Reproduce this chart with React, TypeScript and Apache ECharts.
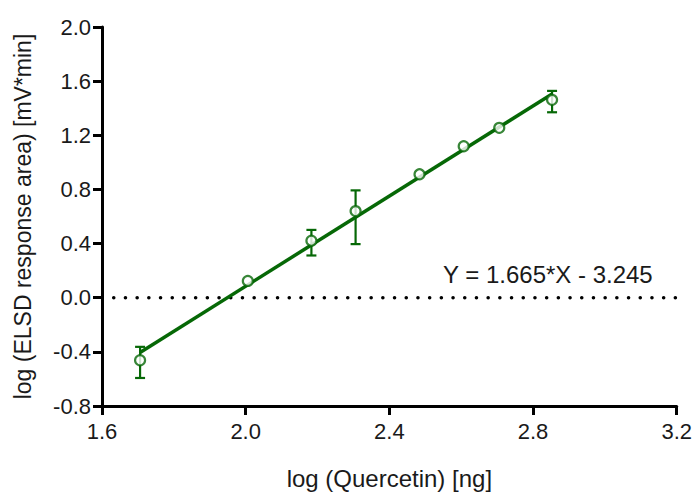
import React, { useEffect, useRef } from "react";
import * as echarts from "echarts";

// log10 of injected amount (ng) and log10 of mean ELSD peak area
const X_LOG = [1.706, 2.006, 2.183, 2.306, 2.484, 2.607, 2.706, 2.853];
const Y_MEAN = [-0.462, 0.124, 0.421, 0.64, 0.912, 1.119, 1.255, 1.462];
// error-bar limits (null where the bar is shorter than the symbol)
const Y_LOW: (number | null)[] = [-0.593, null, 0.312, 0.396, null, null, null, 1.37];
const Y_HIGH: (number | null)[] = [-0.363, null, 0.501, 0.793, null, null, null, 1.528];

// linear fit
const SLOPE = 1.665;
const INTERCEPT = -3.245;

const X_MIN = 1.6;
const X_MAX = 3.2;
const Y_MIN = -0.8;
const Y_MAX = 2.0;
const TICK_STEP = 0.4;

const GREEN = "#066806";
const FONT = "'Liberation Sans', Arial, sans-serif";
const TEXT = "#1a1a1a";

export default function App() {
  const ref = useRef<HTMLDivElement>(null);

  useEffect(() => {
    if (!ref.current) return;
    const chart = echarts.init(ref.current, undefined, { renderer: "svg" });

    const points = X_LOG.map((x, i) => [x, Y_MEAN[i]]);
    const bars = X_LOG.map((x, i) => [x, Y_LOW[i], Y_HIGH[i]]).filter(
      (d) => d[1] !== null && d[2] !== null
    );
    const xFirst = X_LOG[0];
    const xLast = X_LOG[X_LOG.length - 1];
    const fitLine = [
      [xFirst, SLOPE * xFirst + INTERCEPT],
      [xLast, SLOPE * xLast + INTERCEPT],
    ];
    const fmt = (v: number) => v.toFixed(1);
    const equation = `Y = ${SLOPE.toFixed(3)}*X - ${Math.abs(INTERCEPT).toFixed(3)}`;

    chart.setOption({
      animation: false,
      backgroundColor: "#ffffff",
      grid: { left: 102, right: 17, top: 27, bottom: 84, containLabel: false },
      xAxis: {
        type: "value",
        min: X_MIN,
        max: X_MAX,
        interval: TICK_STEP,
        name: "log (Quercetin) [ng]",
        nameLocation: "middle",
        nameGap: 60,
        nameTextStyle: { fontFamily: FONT, fontSize: 24, color: TEXT },
        axisLine: { onZero: false, lineStyle: { color: "#000", width: 3 } },
        axisTick: { show: true, inside: false, length: 9, lineStyle: { color: "#000", width: 3 } },
        axisLabel: { formatter: fmt, fontFamily: FONT, fontSize: 22, color: TEXT, margin: 14 },
        splitLine: { show: false },
      },
      yAxis: {
        type: "value",
        min: Y_MIN,
        max: Y_MAX,
        interval: TICK_STEP,
        name: "log (ELSD response area) [mV*min]",
        nameLocation: "middle",
        nameGap: 68,
        nameTextStyle: { fontFamily: FONT, fontSize: 23, color: TEXT },
        axisLine: { show: true, onZero: false, lineStyle: { color: "#000", width: 3 } },
        axisTick: { show: true, inside: false, length: 9, lineStyle: { color: "#000", width: 3 } },
        axisLabel: { formatter: fmt, fontFamily: FONT, fontSize: 22, color: TEXT, margin: 11 },
        splitLine: { show: false },
      },
      series: [
        {
          name: "zero",
          type: "line",
          data: [
            [X_MIN, 0],
            [X_MAX, 0],
          ],
          symbol: "none",
          silent: true,
          lineStyle: { color: "#000", width: 3.5, type: [0.1, 11.6], cap: "round" },
          z: 1,
        },
        {
          name: "fit",
          type: "line",
          data: fitLine,
          symbol: "none",
          lineStyle: { color: GREEN, width: 3.5 },
          z: 3,
        },
        {
          name: "sd",
          type: "custom",
          data: bars,
          z: 2,
          renderItem: (_params: any, api: any) => {
            const x = api.value(0);
            const lo = api.coord([x, api.value(1)]);
            const hi = api.coord([x, api.value(2)]);
            const half = 5;
            const style = { stroke: GREEN, lineWidth: 2.2, fill: "none" };
            return {
              type: "group",
              children: [
                { type: "line", shape: { x1: lo[0], y1: lo[1], x2: hi[0], y2: hi[1] }, style },
                { type: "line", shape: { x1: hi[0] - half, y1: hi[1], x2: hi[0] + half, y2: hi[1] }, style },
                { type: "line", shape: { x1: lo[0] - half, y1: lo[1], x2: lo[0] + half, y2: lo[1] }, style },
              ],
            };
          },
        },
        {
          name: "mean",
          type: "scatter",
          data: points,
          symbol: "circle",
          symbolSize: 10,
          itemStyle: { color: "#ffffff", borderColor: GREEN, borderWidth: 2.2 },
          z: 4,
        },
      ],
      graphic: [
        {
          type: "text",
          left: 443,
          top: 262,
          style: { text: equation, fontFamily: FONT, fontSize: 24, fill: TEXT },
        },
      ],
    });

    return () => chart.dispose();
  }, []);

  return (
    <div
      ref={ref}
      style={{ position: "fixed", left: 0, top: 0, width: 695, height: 495, background: "#fff" }}
    />
  );
}
